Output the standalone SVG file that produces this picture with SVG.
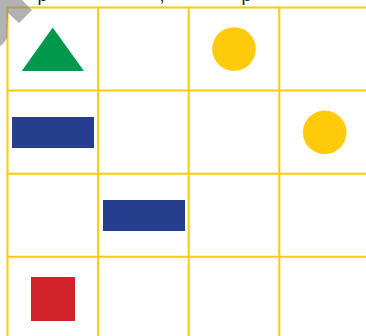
<svg xmlns="http://www.w3.org/2000/svg" width="366" height="336" viewBox="0 0 366 336">
<style>
.grid line{stroke:#FFCA0A;stroke-width:2}
.ball{fill:#FFCA0A}
.bar{fill:#253F8E}
.txt{font-family:"Liberation Sans",Arial,sans-serif;font-size:18px;fill:#222}
</style>
<rect width="366" height="336" fill="#fff"/>
<text class="txt" y="0.5"><tspan x="37.5">p</tspan><tspan x="159.5">,</tspan><tspan x="241.5">p</tspan></text>
<g id="grid" class="grid">
<line x1="7.5" y1="6.5" x2="7.5" y2="336"/>
<line x1="98.1" y1="6.5" x2="98.1" y2="336"/>
<line x1="188.7" y1="6.5" x2="188.7" y2="336"/>
<line x1="279.3" y1="6.5" x2="279.3" y2="336"/>
<line x1="6.5" y1="7.5" x2="366" y2="7.5"/>
<line x1="6.5" y1="90.6" x2="366" y2="90.6"/>
<line x1="6.5" y1="173.7" x2="366" y2="173.7"/>
<line x1="6.5" y1="256.8" x2="366" y2="256.8"/>
</g>
<g id="triangle"><polygon points="52.7,27.5 84,71 21.7,71" fill="#00994C"/></g>
<g id="circle1"><circle class="ball" cx="234" cy="49" r="21.8"/></g>
<g id="circle2"><circle class="ball" cx="324.7" cy="132.3" r="21.8"/></g>
<g id="bar1"><rect class="bar" x="12" y="117" width="82" height="31"/></g>
<g id="bar2"><rect class="bar" x="103" y="200" width="82" height="31"/></g>
<g id="square"><rect x="31" y="277" width="44" height="44" fill="#D2232A"/></g>
<g id="pointer"><path d="M0,0 L22,0 L32,10 L19,23 L8,13 L7,38 Q4,44 0,46 Z" fill="#7f7f7f" opacity="0.6"/></g>
</svg>
